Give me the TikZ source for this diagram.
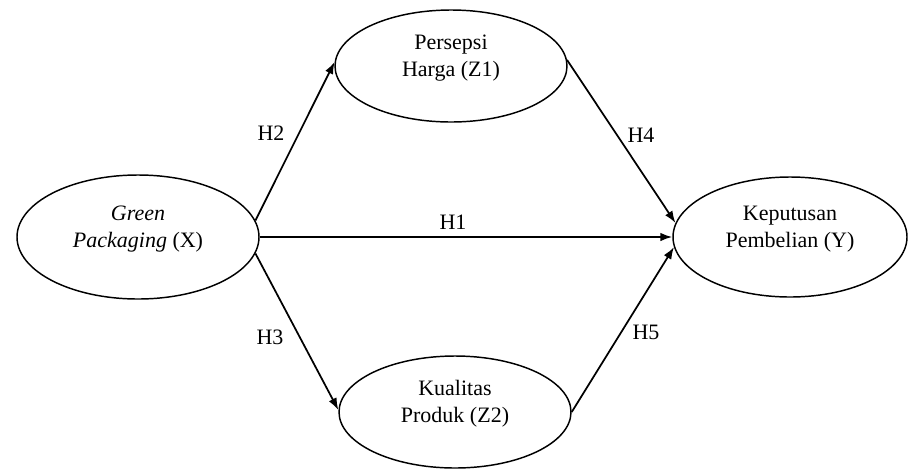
\documentclass[tikz,border=0pt]{standalone}
\usepackage{fontspec}
\setmainfont{Liberation Serif}
\usetikzlibrary{shapes.geometric,arrows.meta,positioning}

\begin{document}
\begin{tikzpicture}[x=0.75pt, y=-0.75pt,
var/.style={ellipse, draw, line width=1.1pt, inner sep=0pt},
vartext/.style={align=center, yshift=6pt, font=\fontsize{16.5}{20}\selectfont},
link/.style={line width=1.3pt, -{Latex[length=9pt,width=6.5pt]}},
hyp/.style={font=\fontsize{16.5}{20}\selectfont}]

\useasboundingbox (0,0) rectangle (910,472);

\node[var, minimum width=181.5pt, minimum height=93pt, label={[vartext]center:{\itshape Green}\\{\itshape Packaging} (X)}] (X)  at (138,237) {};
\node[var, minimum width=174pt, minimum height=84pt, label={[vartext]center:Persepsi\\Harga (Z1)}]   (Z1) at (451,66)  {};
\node[var, minimum width=174pt, minimum height=84pt, label={[vartext]center:Kualitas\\Produk (Z2)}]   (Z2) at (455,412) {};
\node[var, minimum width=175.5pt, minimum height=90pt, label={[vartext]center:Keputusan\\Pembelian (Y)}] (Y)  at (790,237) {};

\node[hyp] (h1) at (453,222) {H1};
\node[hyp] (h2) at (271,133) {H2};
\node[hyp] (h3) at (270,337) {H3};
\node[hyp] (h4) at (641,135) {H4};
\node[hyp] (h5) at (646,332) {H5};

\draw[link] (X.east) -- (Y.west);
\draw[link] (X.8) -- (Z1.178);
\draw[link] (X.-8) -- (Z2.179);
\draw[link] (Z1.3) -- (Y.173);
\draw[link] (Z2.east) -- (Y.185);

\end{tikzpicture}
\end{document}
